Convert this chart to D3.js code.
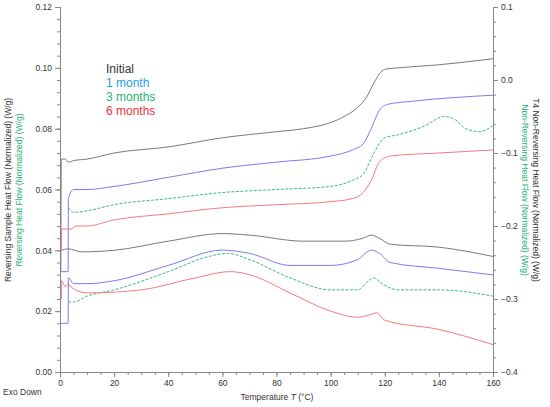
<!DOCTYPE html><html><head><meta charset="utf-8"><script src="https://cdn.jsdelivr.net/npm/d3@7"></script>
<style>body{margin:0;background:#fff}text{font-family:Arial,"Liberation Sans",sans-serif}</style></head><body><svg id="c" width="550" height="407"></svg><script>
const series=["Initial","1 month","3 months","6 months"];
const lineColors=["#7a7a7a","#7b7bf0","#3cb88a","#f47c7c"];
const labelColors=["#333","#1a9fe0","#22b573","#ee3333"];
// Reversing heat flow (left axis, W/g)
const revInitial=[[0.3,0.033],[0.5,0.070],[2,0.070],[3,0.069],[5,0.0695],[10,0.070],[20,0.072],[40,0.074],[60,0.077],[80,0.079],[90,0.080],[100,0.082],[105,0.084],[110,0.087],[113,0.090],[116,0.095],[118,0.098],[120,0.0995],[125,0.100],[140,0.101],[160,0.103]];
const rev1m=[[0.3,0.033],[3,0.033],[3.1,0.057],[5,0.060],[10,0.060],[20,0.061],[40,0.064],[60,0.067],[80,0.069],[100,0.071],[108,0.073],[112,0.075],[115,0.080],[118,0.086],[121,0.088],[130,0.089],[160,0.091]];
const rev3m=[[3,0.054],[5,0.0525],[10,0.053],[20,0.055],[40,0.057],[60,0.059],[80,0.060],[100,0.061],[108,0.063],[112,0.065],[116,0.072],[120,0.077],[125,0.078],[135,0.081],[142,0.084],[146,0.083],[150,0.080],[155,0.079],[160,0.081]];
const rev6m=[[0.5,0.040],[0.6,0.047],[4,0.047],[6,0.048],[10,0.048],[20,0.050],[40,0.052],[60,0.054],[80,0.055],[100,0.056],[108,0.057],[112,0.059],[115,0.063],[118,0.069],[122,0.071],[140,0.072],[160,0.073]];
// Non-reversing heat flow (right axis, W/g)
const nrInitial=[[0.5,-0.2333],[3,-0.2313],[8,-0.2354],[20,-0.2333],[40,-0.2208],[60,-0.2104],[70,-0.2125],[90,-0.2208],[105,-0.2208],[112,-0.2167],[115,-0.2125],[118,-0.2167],[122,-0.225],[140,-0.229],[160,-0.2417]];
const nr1m=[[0.3,-0.3333],[3,-0.3333],[3.1,-0.2708],[5,-0.279],[10,-0.279],[20,-0.275],[40,-0.254],[60,-0.233],[70,-0.2375],[85,-0.254],[100,-0.254],[110,-0.246],[115,-0.233],[118,-0.2375],[122,-0.25],[140,-0.258],[160,-0.267]];
const nr3m=[[3,-0.304],[5,-0.304],[10,-0.296],[20,-0.2875],[40,-0.2625],[55,-0.2417],[62,-0.2375],[70,-0.246],[85,-0.271],[100,-0.2875],[110,-0.2875],[114,-0.275],[116,-0.271],[119,-0.279],[125,-0.2875],[140,-0.2875],[160,-0.296]];
const nr6m=[[0.5,-0.3],[0.6,-0.275],[2,-0.2833],[3,-0.279],[4,-0.2833],[10,-0.2917],[30,-0.2875],[50,-0.271],[63,-0.2625],[70,-0.2667],[85,-0.2917],[100,-0.3167],[110,-0.325],[115,-0.321],[117,-0.319],[120,-0.329],[140,-0.3417],[160,-0.3625]];
const xTicks=[0,20,40,60,80,100,120,140,160];
const yLeftTicks=[0,0.02,0.04,0.06,0.08,0.10,0.12];
const yRightTicks=[-0.4,-0.3,-0.2,-0.1,0.0,0.1];

const svg=d3.select("#c");
const L=60,R=493,T=7,B=372;
const x=d3.scaleLinear().domain([0,160]).range([L,R]);
const yl=d3.scaleLinear().domain([0,0.12]).range([B,T]);
const yr=d3.scaleLinear().domain([-0.4,0.1]).range([B,T]);
const ax="#888";
function styl(g){g.selectAll("path,line").attr("stroke",ax);g.selectAll("text").attr("fill","#333").style("font-size","8.5px");}
svg.append("g").attr("transform",`translate(0,${B})`).call(d3.axisBottom(x).tickValues(d3.range(0,161,5)).tickSize(3).tickFormat("")).call(styl);
svg.append("g").attr("transform",`translate(0,${B})`).call(d3.axisBottom(x).tickValues(xTicks).tickSize(5).tickFormat(d3.format("d"))).call(styl);
svg.append("g").attr("transform",`translate(${L},0)`).call(d3.axisLeft(yl).tickValues(d3.range(0,0.1201,0.004)).tickSize(3).tickFormat("")).call(styl);
svg.append("g").attr("transform",`translate(${L},0)`).call(d3.axisLeft(yl).tickValues(yLeftTicks).tickSize(5).tickFormat(d3.format(".2f"))).call(styl);
svg.append("g").attr("transform",`translate(${R},0)`).call(d3.axisRight(yr).tickValues(d3.range(-0.4,0.1001,0.02)).tickSize(3).tickFormat("")).call(styl);
svg.append("g").attr("transform",`translate(${R},0)`).call(d3.axisRight(yr).tickValues(yRightTicks).tickSize(5).tickFormat(d3.format(".1f"))).call(styl);

const lnL=d3.line().x(d=>x(d[0])).y(d=>yl(d[1])).curve(d3.curveMonotoneX);
const lnR=d3.line().x(d=>x(d[0])).y(d=>yr(d[1])).curve(d3.curveMonotoneX);
const rev=[revInitial,rev1m,rev3m,rev6m], nr=[nrInitial,nr1m,nr3m,nr6m];
rev.forEach((d,i)=>svg.append("path").attr("d",lnL(d)).attr("fill","none").attr("stroke",lineColors[i]).attr("stroke-width",1).attr("stroke-dasharray",i==2?"3,1.5":null));
nr.forEach((d,i)=>svg.append("path").attr("d",lnR(d)).attr("fill","none").attr("stroke",lineColors[i]).attr("stroke-width",1).attr("stroke-dasharray",i==2?"3,1.5":null));

series.forEach((s,i)=>svg.append("text").attr("x",106).attr("y",73+i*14).attr("fill",labelColors[i]).style("font-size","12px").text(s));

svg.append("text").attr("transform","translate(11,190) rotate(-90)").attr("text-anchor","middle").style("font-size","8.5px").attr("fill","#333").text("Reversing Sample Heat Flow (Normalized)  (W/g)");
svg.append("text").attr("transform","translate(22,190) rotate(-90)").attr("text-anchor","middle").style("font-size","8.5px").attr("fill","#22b573").text("Reversing Heat Flow (Normalized)  (W/g)");
svg.append("text").attr("transform","translate(533,190) rotate(90)").attr("text-anchor","middle").style("font-size","8.5px").attr("fill","#333").text("T4 Non-Reversing Heat Flow (Normalized)  (W/g)");
svg.append("text").attr("transform","translate(522,190) rotate(90)").attr("text-anchor","middle").style("font-size","8.5px").attr("fill","#22b573").text("Non-Reversing Heat Flow (Normalized)  (W/g)");
const xt=svg.append("text").attr("x",277).attr("y",400).attr("text-anchor","middle").style("font-size","8.5px").attr("fill","#333");
xt.append("tspan").text("Temperature ");xt.append("tspan").style("font-style","italic").text("T");xt.append("tspan").text(" (°C)");
svg.append("text").attr("x",3).attr("y",395).style("font-size","8.5px").attr("fill","#333").text("Exo Down");
</script></body></html>
